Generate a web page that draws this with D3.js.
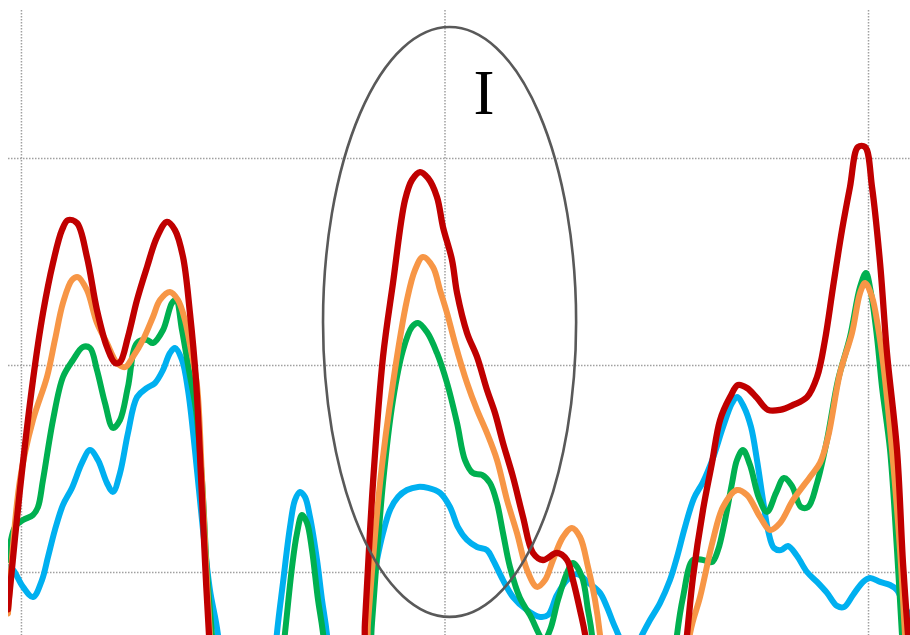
<!DOCTYPE html>
<html>
<head>
<meta charset="utf-8">
<script src="https://cdn.jsdelivr.net/npm/d3@7"></script>
<style>
  html, body { margin: 0; padding: 0; background: #fff; overflow: hidden; }
  svg { display: block; }
</style>
</head>
<body>
<svg id="chart" width="910" height="635"></svg>
<script>
// Gridline positions
const xTicks = [0, 50, 100];
const yTicks = [1, 2, 3];

// Series 1 (blue)
const blueX = [-1.53,-0.94,0.24,1.42,2.48,3.19,4.01,4.96,6.02,7.20,8.15,9.09,10.15,10.86,11.69,12.63,13.70,14.88,15.82,16.77,17.59,18.18,19.01,19.72,20.54,21.49,22.31,23.26,24.44,
  28.69,30.22,30.93,31.76,32.35,32.94,33.53,34.12,34.95,35.54,36.13,37.43,
  39.79,40.73,41.32,42.03,42.74,43.57,44.51,45.57,46.87,48.05,49.47,50.65,51.59,52.66,53.84,55.02,55.73,56.91,58.09,59.74,61.28,62.22,63.28,64.46,65.64,67.18,68.36,69.18,70.13,72.02,73.32,74.26,75.44,76.62,77.45,78.39,79.46,80.52,81.70,82.88,83.95,84.53,85.36,86.19,86.89,87.60,88.19,88.90,89.73,90.55,91.62,92.80,93.98,95.16,96.34,97.17,98.23,99.41,100.24,101.42,102.60,103.42,104.13,104.96];
const blueY = [1.024,1.010,0.928,0.879,0.961,1.072,1.203,1.324,1.406,1.527,1.589,1.541,1.430,1.387,1.478,1.671,1.845,1.889,1.913,1.976,2.058,2.082,2.024,1.879,1.589,1.203,0.913,0.696,0,
  0,0.705,0.947,1.217,1.348,1.387,1.362,1.266,1.058,0.865,0.696,0,
  0,0.696,0.889,1.058,1.188,1.300,1.362,1.396,1.411,1.406,1.382,1.314,1.217,1.155,1.121,1.106,1.058,0.961,0.879,0.816,0.783,0.792,0.889,0.961,0.990,0.942,0.899,0.831,0.734,0.589,0.696,0.768,0.850,0.961,1.072,1.217,1.357,1.435,1.551,1.700,1.816,1.845,1.797,1.700,1.541,1.348,1.203,1.116,1.106,1.126,1.077,1.000,0.952,0.899,0.836,0.831,0.889,0.952,0.971,0.952,0.937,0.913,0.850,0.783];

// Series 2 (green)
const greenX = [-1.53,-0.71,0.24,1.42,2.01,2.60,3.78,4.96,6.14,7.32,8.15,8.97,9.92,10.86,11.69,12.63,13.70,14.88,15.58,16.77,17.83,18.30,19.01,19.83,20.66,21.37,21.96,22.55,23.85,
  29.28,31.17,32.00,32.59,33.18,33.77,34.36,35.07,35.66,37.31,
  40.02,41.44,42.74,43.92,45.10,46.16,46.87,47.93,49.11,50.30,51.48,52.42,53.36,54.43,55.37,56.20,56.91,57.73,58.91,60.09,61.75,62.46,63.40,64.46,65.17,66.23,66.94,67.41,68.60,
  75.91,77.45,78.16,79.34,80.52,81.58,82.29,83.12,83.95,84.53,85.24,86.07,87.13,88.07,89.14,90.08,91.03,92.09,92.92,93.98,95.16,96.46,97.87,99.06,99.76,100.35,101.06,101.65,102.60,103.42,104.01,105.08];
const greenY = [1.058,1.217,1.251,1.275,1.314,1.444,1.734,1.942,2.024,2.087,2.082,1.976,1.816,1.696,1.734,1.894,2.106,2.121,2.106,2.169,2.300,2.314,2.169,1.976,1.783,1.444,1.000,0.696,0,
  0,0.705,1.024,1.188,1.275,1.237,1.106,0.865,0.705,0,
  0,0.754,1.430,1.831,2.072,2.184,2.203,2.159,2.058,1.913,1.720,1.541,1.478,1.469,1.430,1.333,1.188,1.024,0.874,0.792,0.671,0.720,0.865,0.995,1.043,0.976,0.816,0.696,0,
  0,0.696,0.879,1.058,1.058,1.048,1.106,1.251,1.430,1.541,1.589,1.517,1.357,1.290,1.382,1.454,1.415,1.314,1.314,1.430,1.638,1.928,2.135,2.377,2.444,2.348,2.135,1.894,1.589,1.106,0.696,0];

// Series 3 (orange)
const orangeX = [-1.53,-0.12,1.42,3.07,4.01,4.96,6.02,6.73,7.79,8.97,10.15,11.33,12.28,13.22,14.40,15.58,16.41,17.59,18.54,19.36,20.07,20.78,21.37,21.84,22.31,23.49,
  39.79,40.97,42.39,43.92,45.57,46.52,47.46,48.64,49.47,50.30,51.24,52.66,53.84,55.02,56.20,57.38,58.56,59.74,60.92,61.87,62.81,63.99,65.05,66.00,66.94,67.77,68.36,69.78,
  77.33,79.00,80.17,81.70,82.88,84.53,85.71,87.25,88.43,89.61,91.15,93.15,94.33,95.28,96.69,98.11,99.06,99.65,100.47,101.18,101.77,102.83,103.78,104.37,105.43];
const orangeY = [0.800,1.444,1.734,1.942,2.121,2.300,2.411,2.425,2.362,2.203,2.106,2.010,1.990,2.039,2.121,2.232,2.314,2.353,2.314,2.217,2.072,1.903,1.454,1.048,0.696,0,
  0,0.754,1.430,1.913,2.314,2.459,2.522,2.473,2.362,2.251,2.106,1.913,1.783,1.671,1.541,1.348,1.188,1.010,0.928,0.961,1.058,1.169,1.213,1.169,1.024,0.865,0.696,0,
  0,0.705,0.879,1.155,1.314,1.396,1.372,1.266,1.203,1.237,1.348,1.459,1.527,1.652,1.961,2.155,2.348,2.396,2.329,2.184,2.014,1.589,1.106,0.696,0];

// Series 4 (red)
const redX = [-1.53,-0.12,1.42,2.60,3.78,4.84,5.55,6.61,7.79,8.97,10.15,11.10,11.69,12.63,13.70,14.88,16.06,17.24,18.18,19.13,19.95,20.66,21.25,21.72,22.20,23.38,
  39.55,40.61,41.56,42.74,43.92,45.34,46.16,47.11,48.05,49.11,49.82,50.89,51.48,52.66,53.84,55.02,55.96,56.91,58.09,59.27,60.45,61.63,63.28,64.46,65.17,66.00,66.71,68.36,
  76.86,78.63,79.34,80.52,81.58,82.53,83.71,84.65,85.71,86.89,88.19,89.61,91.15,92.80,93.98,94.92,95.87,96.93,97.87,98.82,99.65,100.47,101.42,102.24,103.42,104.13,104.72,105.90];
const redY = [0.820,1.396,1.928,2.251,2.493,2.652,2.700,2.686,2.522,2.266,2.087,2.010,2.014,2.135,2.314,2.473,2.618,2.691,2.652,2.522,2.251,1.928,1.464,1.058,0.696,0,
  0,0.754,1.430,2.039,2.396,2.797,2.894,2.932,2.903,2.812,2.667,2.507,2.348,2.155,2.039,1.879,1.768,1.623,1.459,1.266,1.092,1.058,1.092,1.058,0.961,0.816,0.671,0,
  0,0.696,0.976,1.300,1.527,1.734,1.845,1.903,1.889,1.841,1.783,1.783,1.807,1.845,1.942,2.121,2.377,2.652,2.860,3.053,3.053,2.860,2.493,2.058,1.589,1.043,0.696,0];

// Highlight ring and its label
const ringCenter = [50.6, 2.208];
const ringHalfWidth = 14.94;
const ringHalfHeight = 1.425;
const ringLabel = "I";
const ringLabelAt = [54.66, 3.213];

const series = [
  { xs: blueX,   ys: blueY,   color: "#00B0F0", width: 6 },
  { xs: greenX,  ys: greenY,  color: "#00B050", width: 6 },
  { xs: orangeX, ys: orangeY, color: "#F79646", width: 6 },
  { xs: redX,    ys: redY,    color: "#C00000", width: 6.3 }
];

const margin = { top: 10, left: 8 };
const plotW = 910, plotH = 769;

const x = d3.scaleLinear().domain([-1.53, 105.9]).range([0, plotW]);
const y = d3.scaleLinear().domain([0, 3.715]).range([plotH, 0]);

const svg = d3.select("#chart");
const g = svg.append("g").attr("transform", `translate(${margin.left},${margin.top})`);

g.append("defs").append("clipPath").attr("id", "plot-clip")
  .append("rect").attr("x", 0).attr("y", 0).attr("width", plotW).attr("height", plotH);

// Dotted gridlines
const gridStyle = sel => {
  sel.select(".domain").remove();
  sel.selectAll("text").remove();
  sel.selectAll(".tick line")
    .attr("stroke", "#a0a0a0")
    .attr("stroke-width", 1.5)
    .attr("stroke-dasharray", "1.5,1.5");
};
g.append("g")
  .call(d3.axisLeft(y).tickValues(yTicks).tickSize(-plotW).tickFormat(""))
  .call(gridStyle);
g.append("g")
  .call(d3.axisTop(x).tickValues(xTicks).tickSize(-plotH).tickFormat(""))
  .call(gridStyle);

// Series lines
const line = d3.line()
  .x(d => x(d[0]))
  .y(d => y(d[1]))
  .curve(d3.curveCatmullRom.alpha(0.5));

const lines = g.append("g").attr("clip-path", "url(#plot-clip)");
series.forEach(s => {
  const pts = s.xs.map((v, i) => [v, s.ys[i]]);
  lines.append("path")
    .datum(pts)
    .attr("fill", "none")
    .attr("stroke", s.color)
    .attr("stroke-width", s.width)
    .attr("stroke-linejoin", "round")
    .attr("stroke-linecap", "round")
    .attr("d", line);
});

// Highlight ring
g.append("ellipse")
  .attr("cx", x(ringCenter[0]))
  .attr("cy", y(ringCenter[1]))
  .attr("rx", x(ringCenter[0] + ringHalfWidth) - x(ringCenter[0]))
  .attr("ry", y(ringCenter[1] - ringHalfHeight) - y(ringCenter[1]))
  .attr("fill", "none")
  .attr("stroke", "#595959")
  .attr("stroke-width", 2.6);

g.append("text")
  .attr("x", x(ringLabelAt[0]))
  .attr("y", y(ringLabelAt[1]))
  .attr("text-anchor", "middle")
  .attr("font-family", "'Liberation Serif', 'DejaVu Serif', serif")
  .attr("font-size", 63)
  .attr("fill", "#000")
  .text(ringLabel);
</script>
</body>
</html>
